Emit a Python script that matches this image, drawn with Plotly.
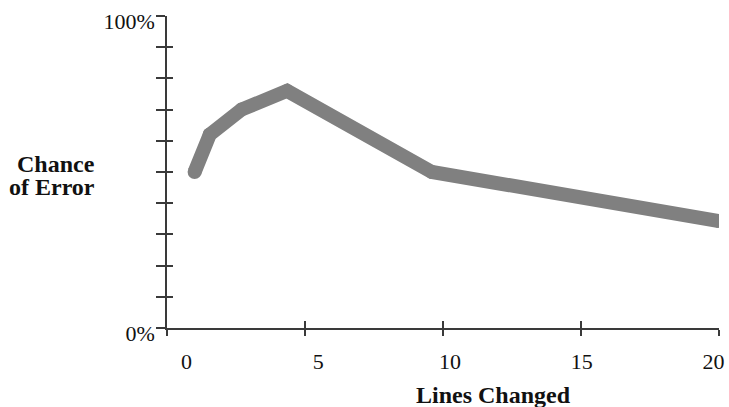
import plotly.graph_objects as go

# Data
lines_changed = [1.0, 1.55, 2.7, 4.35, 9.6, 20.0]
chance_of_error = [50.0, 62.0, 70.0, 76.0, 50.0, 34.3]

x_tick_vals = [0, 5, 10, 15, 20]
x_tick_text = ["0", "5", "10", "15", "20"]
y_tick_vals = [0, 10, 20, 30, 40, 50, 60, 70, 80, 90, 100]
y_tick_text = ["0%", "", "", "", "", "", "", "", "", "", "100%"]

FONT = "Liberation Serif"
AXIS_COLOR = "#3a3a3a"
LINE_COLOR = "#808080"

fig = go.Figure()
fig.add_trace(go.Scatter(
    x=lines_changed, y=chance_of_error, mode="lines+markers",
    line=dict(color=LINE_COLOR, width=14),
    marker=dict(color=LINE_COLOR, size=14, line=dict(width=0)),
    showlegend=False, hoverinfo="skip",
))
# helper empty traces so the overlay axes exist
fig.add_trace(go.Scatter(x=[], y=[], xaxis="x2", yaxis="y", showlegend=False, hoverinfo="skip"))
fig.add_trace(go.Scatter(x=[], y=[], xaxis="x3", yaxis="y", showlegend=False, hoverinfo="skip"))
fig.add_trace(go.Scatter(x=[], y=[], xaxis="x", yaxis="y2", showlegend=False, hoverinfo="skip"))

fig.update_layout(
    width=729, height=407,
    margin=dict(l=167, r=10, t=16, b=79, autoexpand=False),
    paper_bgcolor="white", plot_bgcolor="white",
    font=dict(family=FONT, color="#111111"),
    xaxis=dict(
        range=[0, 20], tickvals=x_tick_vals, showticklabels=False,
        ticks="outside", ticklen=6, tickwidth=1.5, tickcolor=AXIS_COLOR,
        showline=True, linecolor=AXIS_COLOR, linewidth=1.5, automargin=False,
        showgrid=False, zeroline=False, fixedrange=True,
    ),
    xaxis3=dict(
        overlaying="x", anchor="y", range=[0, 20], tickvals=x_tick_vals,
        showticklabels=False, ticks="inside", ticklen=7, tickwidth=1.5, automargin=False,
        tickcolor=AXIS_COLOR, showline=False, showgrid=False, zeroline=False,
    ),
    xaxis2=dict(
        overlaying="x", anchor="y", range=[-0.744, 20.21],
        tickvals=x_tick_vals, ticktext=x_tick_text, ticks="",
        ticklabelstandoff=18, automargin=False, ticklabeloverflow="allow",
        tickfont=dict(family=FONT, size=22, color="#111111"),
        showline=False, showgrid=False, zeroline=False,
    ),
    yaxis=dict(
        range=[0, 100], tickvals=y_tick_vals, ticktext=y_tick_text,
        ticks="outside", ticklen=9, tickwidth=1.5, tickcolor=AXIS_COLOR,
        tickfont=dict(family=FONT, size=22, color="#111111"),
        ticklabelshift=5, ticklabeloverflow="allow", ticklabelstandoff=-3,
        showline=True, linecolor=AXIS_COLOR, linewidth=1.5, automargin=False,
        showgrid=False, zeroline=False, fixedrange=True,
    ),
    yaxis2=dict(
        overlaying="y", anchor="x", range=[0, 100], tickvals=y_tick_vals,
        showticklabels=False, ticks="inside", ticklen=6, tickwidth=1.5, automargin=False,
        tickcolor=AXIS_COLOR, showline=False, showgrid=False, zeroline=False,
    ),
    annotations=[
        dict(text="<b>Chance</b>", xref="paper", yref="paper", x=-0.127, y=0.526,
             xanchor="right", yanchor="middle", showarrow=False,
             font=dict(family=FONT, size=24, color="#111111")),
        dict(text="<b>of Error</b>", xref="paper", yref="paper", x=-0.127, y=0.452,
             xanchor="right", yanchor="middle", showarrow=False,
             font=dict(family=FONT, size=24, color="#111111")),
        dict(text="<b>Lines Changed</b>", xref="paper", yref="paper", x=0.5906, y=-0.216,
             xanchor="center", yanchor="middle", showarrow=False,
             font=dict(family=FONT, size=24, color="#111111")),
    ],
)

# remove the page's default body margin so the 729x407 figure fills the window exactly
fig.write_html("out.html", config={"displayModeBar": False},
               post_script="document.body.style.margin='0';")
